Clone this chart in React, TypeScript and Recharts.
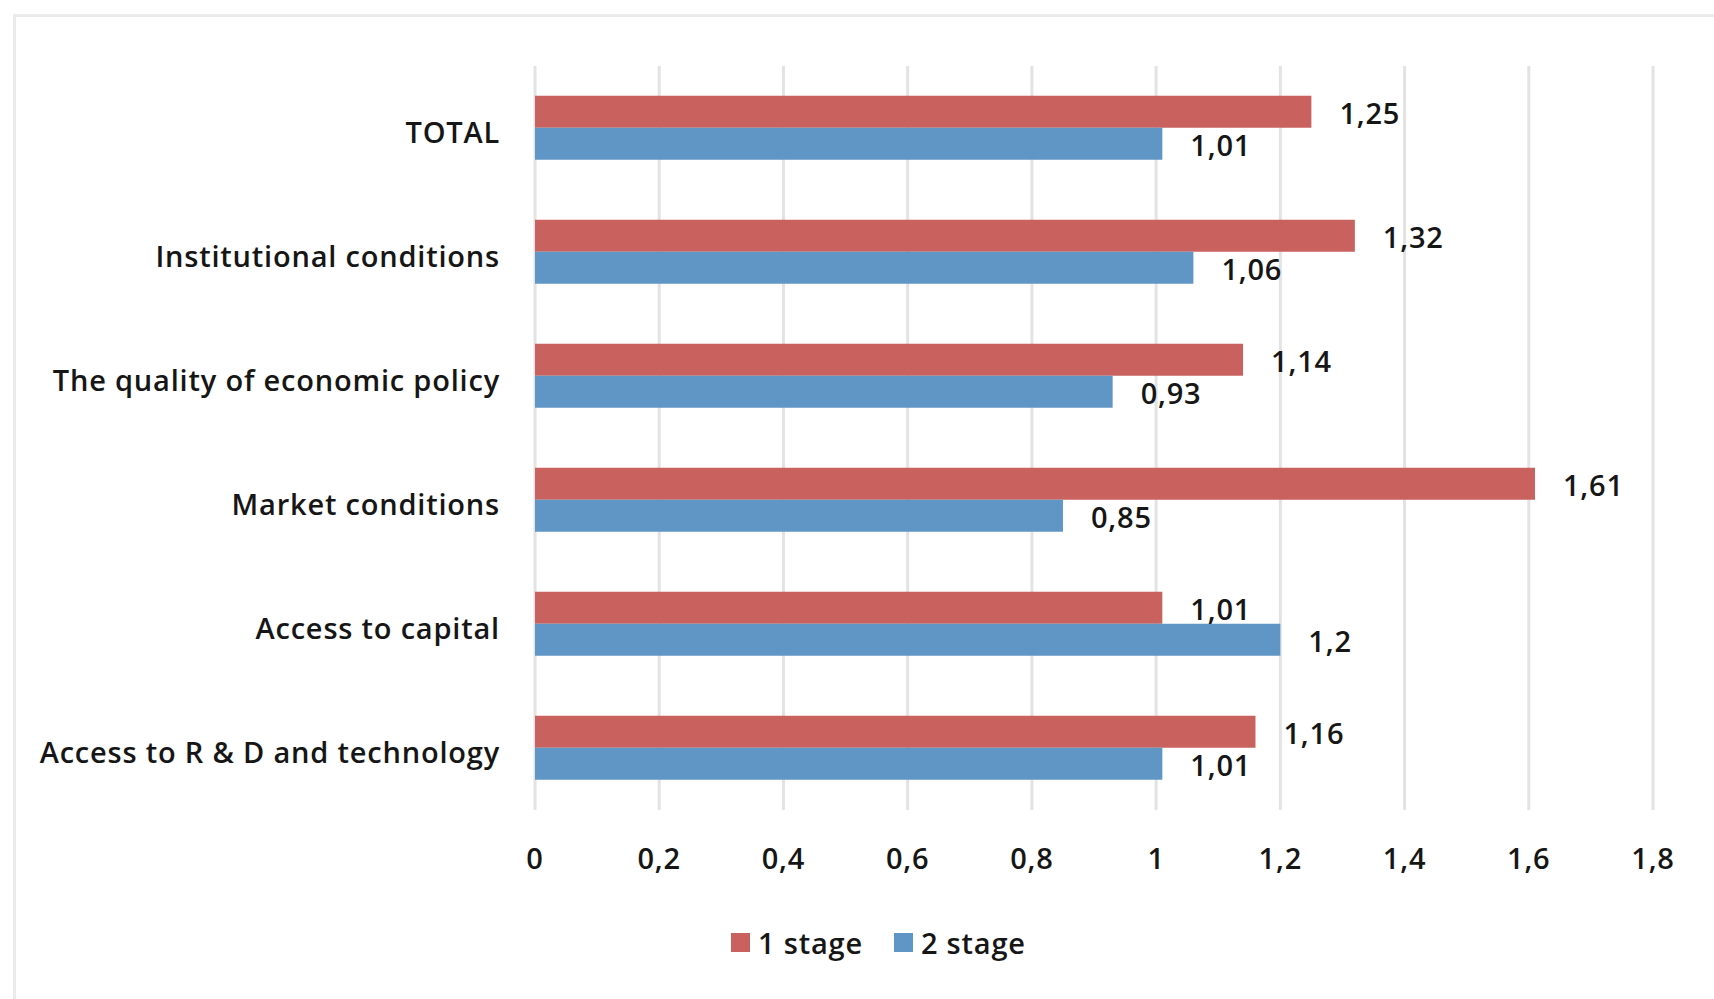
import React from 'react';
import { BarChart, Bar, XAxis, YAxis, CartesianGrid, Legend, LabelList } from 'recharts';

const categories = [
  'TOTAL',
  'Institutional conditions',
  'The quality of economic policy',
  'Market conditions',
  'Access to capital',
  'Access to R & D and technology',
];
const stage1 = [1.25, 1.32, 1.14, 1.61, 1.01, 1.16];
const stage2 = [1.01, 1.06, 0.93, 0.85, 1.2, 1.01];
const xTicks = [0, 0.2, 0.4, 0.6, 0.8, 1, 1.2, 1.4, 1.6, 1.8];
const seriesNames = ['1 stage', '2 stage'];

const RED = '#c9625e';
const BLUE = '#5f96c5';
const FONT = '"Open Sans", sans-serif';
const FONT_SIZE = 29;
const WEIGHT = 600;
const SPACING = 0.8;
const TEXT = '#161616';

const chartData = categories.map((name, i) => ({
  name,
  stage1: stage1[i],
  stage2: stage2[i],
}));

// excel-style decimal comma
const fmt = (v: number) => String(v).replace('.', ',');

const textProps = { fill: TEXT, fontSize: FONT_SIZE, fontFamily: FONT, fontWeight: WEIGHT, letterSpacing: SPACING };

const renderLegend = () => {
  const items = [
    { label: seriesNames[0], color: RED },
    { label: seriesNames[1], color: BLUE },
  ];
  return (
    <div
      style={{
        display: 'flex',
        alignItems: 'center',
        fontFamily: FONT,
        fontSize: FONT_SIZE,
        fontWeight: WEIGHT,
        letterSpacing: SPACING,
        color: TEXT,
      }}
    >
      {items.map((it, idx) => (
        <div key={it.label} style={{ display: 'flex', alignItems: 'center', marginRight: idx === 0 ? 31 : 0 }}>
          <span style={{ display: 'inline-block', width: 19, height: 19, background: it.color, marginRight: 8 }} />
          <span>{it.label}</span>
        </div>
      ))}
    </div>
  );
};

export default function App() {
  return (
    <div style={{ position: 'absolute', left: 0, top: 0, width: 1714, height: 999, background: '#fff', overflow: 'hidden' }}>
      <div
        style={{
          position: 'absolute',
          left: 13,
          top: 14,
          width: 1800,
          height: 1100,
          borderTop: '3px solid #ebebeb',
          borderLeft: '3px solid #ebebeb',
        }}
      />
      <div style={{ position: 'absolute', left: 0, top: 0 }}>
        <BarChart
          width={1714}
          height={999}
          data={chartData}
          layout="vertical"
          margin={{ top: 66, right: 61, bottom: 0, left: 0 }}
          barCategoryGap="24%"
          barGap={0}
        >
          <CartesianGrid horizontal={false} stroke="#e3e3e3" strokeWidth={3} />
          <XAxis
            type="number"
            domain={[0, 1.8]}
            ticks={xTicks}
            tickFormatter={fmt}
            axisLine={false}
            tickLine={false}
            tickSize={0}
            tickMargin={38}
            height={189}
            interval={0}
            tick={textProps}
          />
          <YAxis
            type="category"
            dataKey="name"
            width={535}
            axisLine={false}
            tickLine={false}
            tickSize={0}
            tickMargin={35}
            interval={0}
            tick={{ ...textProps, dy: 5 }}
          />
          <Legend
            layout="horizontal"
            verticalAlign="middle"
            align="center"
            content={renderLegend}
            wrapperStyle={{ left: 731, top: 923, width: 'auto' }}
          />
          <Bar dataKey="stage1" name={seriesNames[0]} fill={RED} isAnimationActive={false}>
            <LabelList dataKey="stage1" position="right" offset={28} formatter={fmt} {...textProps} dy={2} />
          </Bar>
          <Bar dataKey="stage2" name={seriesNames[1]} fill={BLUE} isAnimationActive={false}>
            <LabelList dataKey="stage2" position="right" offset={28} formatter={fmt} {...textProps} dy={2} />
          </Bar>
        </BarChart>
      </div>
    </div>
  );
}
